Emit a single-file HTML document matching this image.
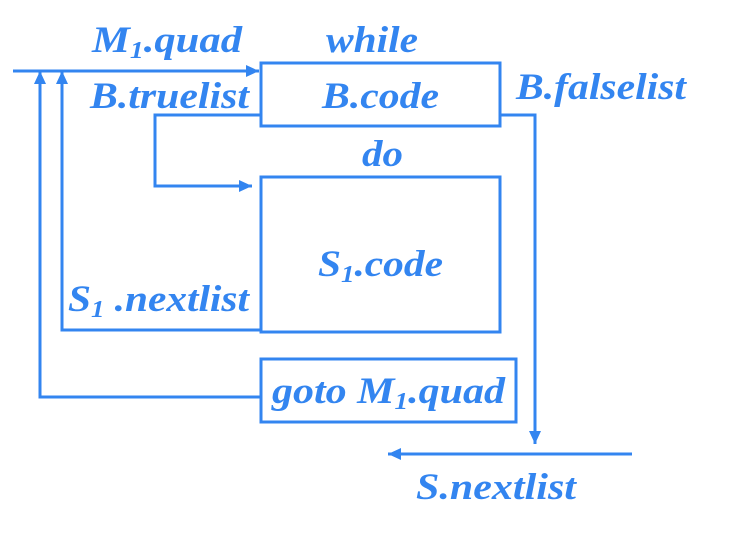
<!DOCTYPE html>
<html><head><style>html,body{margin:0;padding:0;background:#fff;}</style></head><body>
<svg width="752" height="537" xmlns="http://www.w3.org/2000/svg" style="display:block">
<defs>
<marker id="a" markerWidth="14" markerHeight="14" refX="13" refY="6" orient="auto" markerUnits="userSpaceOnUse"><path d="M0,0 L13,6 L0,12 z" fill="#3385f0"/></marker>
</defs>
<g stroke="#3385f0" stroke-width="3" fill="none">
<rect x="261" y="63" width="239" height="63"/>
<rect x="261" y="177" width="239" height="155"/>
<rect x="261" y="359" width="255" height="63"/>
<line x1="13" y1="71" x2="259" y2="71" marker-end="url(#a)"/>
<polyline points="261,115 155,115 155,186 252,186" marker-end="url(#a)"/>
<polyline points="261,330 62,330 62,71" marker-end="url(#a)"/>
<polyline points="261,397 40,397 40,71" marker-end="url(#a)"/>
<polyline points="500,115 535,115 535,444" marker-end="url(#a)"/>
<line x1="632" y1="454" x2="388" y2="454" marker-end="url(#a)"/>
</g>
<g fill="#3385f0" font-family="'Liberation Serif', serif" font-weight="bold" font-style="italic" font-size="37">
<text x="92" y="52" textLength="150" lengthAdjust="spacingAndGlyphs">M<tspan font-size="24" dy="6">1</tspan><tspan dy="-6">.quad</tspan></text>
<text x="326" y="52" textLength="92" lengthAdjust="spacingAndGlyphs">while</text>
<text x="90" y="108" textLength="159" lengthAdjust="spacingAndGlyphs">B.truelist</text>
<text x="322" y="108" textLength="117" lengthAdjust="spacingAndGlyphs">B.code</text>
<text x="516" y="99" textLength="170" lengthAdjust="spacingAndGlyphs">B.falselist</text>
<text x="362" y="166" textLength="41" lengthAdjust="spacingAndGlyphs">do</text>
<text x="318" y="276" textLength="125" lengthAdjust="spacingAndGlyphs">S<tspan font-size="24" dy="6">1</tspan><tspan dy="-6">.code</tspan></text>
<text x="68" y="311" textLength="181" lengthAdjust="spacingAndGlyphs">S<tspan font-size="24" dy="6">1</tspan><tspan dy="-6"> .nextlist</tspan></text>
<text x="272" y="403" textLength="233" lengthAdjust="spacingAndGlyphs">goto M<tspan font-size="24" dy="6">1</tspan><tspan dy="-6">.quad</tspan></text>
<text x="416" y="499" textLength="160" lengthAdjust="spacingAndGlyphs">S.nextlist</text>
</g>
</svg>
</body></html>
